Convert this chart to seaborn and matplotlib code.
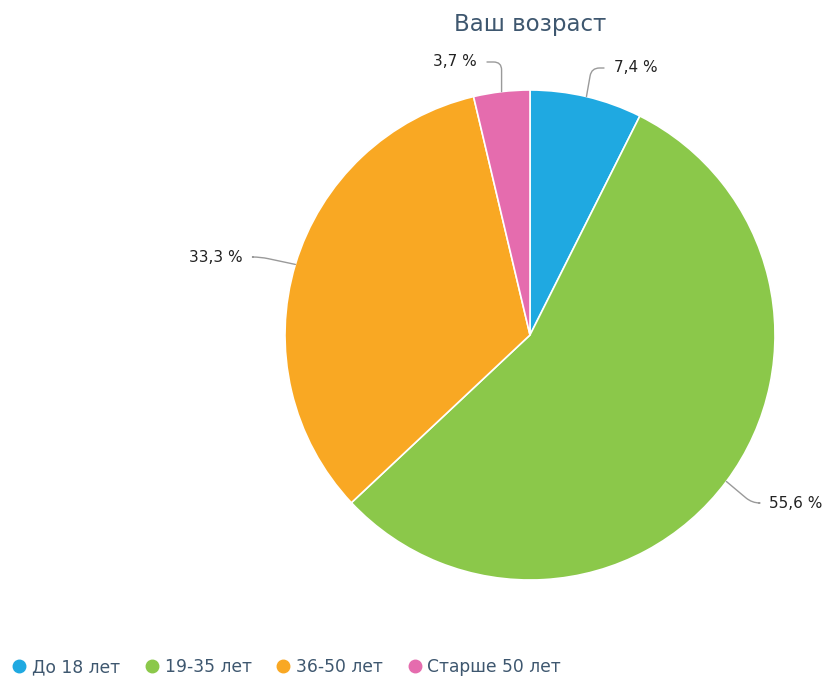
import numpy as np
import matplotlib
matplotlib.use("Agg")
import matplotlib.pyplot as plt
from matplotlib.lines import Line2D
import seaborn as sns

# Survey answers: "Ваш возраст"
categories = ["До 18 лет", "19-35 лет", "36-50 лет", "Старше 50 лет"]
shares = [7.4, 55.6, 33.3, 3.7]
colors = ["#1FA9E1", "#8BC84A", "#F9A823", "#E56CAE"]
label_texts = ["7,4 %", "55,6 %", "33,3 %", "3,7 %"]

sns.set_theme(style="white")
plt.rcParams["font.family"] = ["DejaVu Sans"]

W, H = 830, 681
fig = plt.figure(figsize=(W / 100, H / 100), dpi=100)
cx, cy, R = 530, 335, 245
ax = fig.add_axes([(cx - R) / W, (H - cy - R) / H, 2 * R / W, 2 * R / H])

wedges, _ = ax.pie(shares, colors=colors, startangle=90, counterclock=False,
                   radius=1.0, wedgeprops=dict(edgecolor="white", linewidth=1.2))
ax.set_xlim(-1, 1)
ax.set_ylim(-1, 1)
ax.set_aspect("auto")
ax.axis("off")


def px(x, y):
    return ((x - cx) / R, (cy - y) / R)


# label anchor (pixels), alignment, connector geometry
label_spec = [
    dict(pos=(614, 68), ha="left", angB=80),
    dict(pos=(769, 503), ha="left", angB=-40),
    dict(pos=(243, 257), ha="right", angB=-12),
    dict(pos=(477, 62), ha="right", angB=90),
]

cum = np.cumsum([0] + shares[:-1])
for share, start, txt, spec in zip(shares, cum, label_texts, label_spec):
    mid = np.deg2rad((start + share / 2) / 100 * 360)
    edge = (np.sin(mid), np.cos(mid))
    tx, ty = px(*spec["pos"])
    # connector starts just beside the text
    gap = 10 / R
    sx = tx - gap if spec["ha"] == "left" else tx + gap
    ax.annotate("", xy=edge, xytext=(sx, ty), xycoords="data",
                arrowprops=dict(arrowstyle="-", color="#9a9a9a", lw=1.0,
                                shrinkA=0, shrinkB=0,
                                connectionstyle=f"angle,angleA=0,angleB={spec['angB']},rad=8"),
                annotation_clip=False)
    ax.text(tx, ty, txt, ha=spec["ha"], va="center", fontsize=11,
            color="#222222", clip_on=False)

fig.text(cx / W, 1 - 25 / H, "Ваш возраст", ha="center", va="center",
         fontsize=16.5, color="#3E576F")

handles = [Line2D([0], [0], marker="o", linestyle="none", markersize=9,
                  markerfacecolor=c, markeredgecolor=c) for c in colors]
fig.legend(handles, categories, loc="center left",
           bbox_to_anchor=(4 / W, 1 - 667 / H), ncol=4, frameon=False,
           fontsize=12.3, labelcolor="#3E576F", handletextpad=0.25,
           columnspacing=1.35, handlelength=1.0, borderaxespad=0)

fig.savefig("out.png", dpi=100)
